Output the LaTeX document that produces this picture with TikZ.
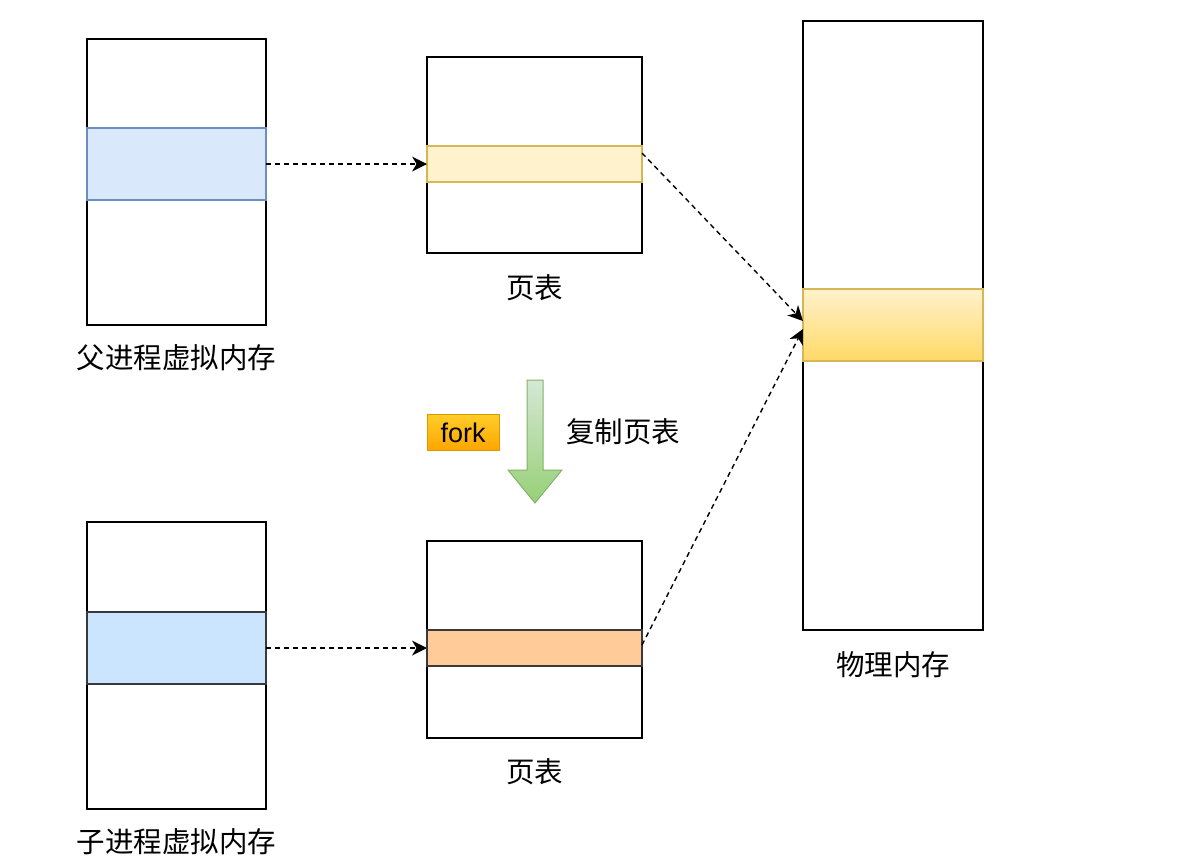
\documentclass[tikz,border=0pt]{standalone}
\usepackage{fontspec}
\setmainfont{Noto Sans CJK SC}
\newfontfamily\labelsans{Liberation Sans}
\usetikzlibrary{arrows.meta}

\definecolor{bandblue}{HTML}{DAE8FC}
\definecolor{bandbluedraw}{HTML}{6C8EBF}
\definecolor{bandsky}{HTML}{CCE5FF}
\definecolor{darkline}{HTML}{36393D}
\definecolor{bandyellow}{HTML}{FFF2CC}
\definecolor{bandyellowdraw}{HTML}{D6B656}
\definecolor{bandgold}{HTML}{FFD966}
\definecolor{bandorange}{HTML}{FFCC99}
\definecolor{arrowgreenlight}{HTML}{D5E8D4}
\definecolor{arrowgreen}{HTML}{97D077}
\definecolor{arrowgreendraw}{HTML}{82B366}
\definecolor{forktop}{HTML}{FFCD28}
\definecolor{forkbottom}{HTML}{FFA500}
\definecolor{forkdraw}{HTML}{D79B00}

\tikzset{
  memblock/.style={draw=black, fill=white, line width=1.2pt, inner sep=0pt, outer sep=0pt},
  band/.style={line width=1.2pt, inner sep=0pt, outer sep=0pt},
  caption/.style={font=\fontsize{28.5}{32}\selectfont, inner sep=0pt},
  maptip/.tip={Stealth[length=15pt, width=15pt, inset=4.5pt, line width=0pt]},
  mapping/.style={dash pattern=on 5pt off 4pt, line width=1.4pt, -maptip},
}

\begin{document}
\begin{tikzpicture}[x=1pt, y=-1pt]
\useasboundingbox (0,0) rectangle (1178,865);

% parent process virtual memory
\node[memblock, minimum width=179pt, minimum height=286pt] (pvm) at (176.5,182) {};
\node[band, draw=bandbluedraw, fill=bandblue, minimum width=179pt, minimum height=72pt] (pband) at (176.5,164) {};
\node[caption] (pcap) at (176.5,358) {父进程虚拟内存};

% parent page table
\node[memblock, minimum width=215pt, minimum height=196pt] (ptab) at (534.5,155) {};
\node[band, draw=bandyellowdraw, fill=bandyellow, minimum width=215pt, minimum height=36pt] (ptband) at (534.5,164) {};
\node[caption] (ptcap) at (534.5,288) {页表};

% physical memory
\node[memblock, minimum width=180pt, minimum height=609pt] (phys) at (893,325.5) {};
\node[band, draw=bandyellowdraw, top color=bandyellow, bottom color=bandgold, minimum width=180pt, minimum height=72pt] (physband) at (893,325) {};
\node[caption] (physcap) at (893,665) {物理内存};

% child process virtual memory
\node[memblock, minimum width=179pt, minimum height=287pt] (cvm) at (176.5,665.5) {};
\node[band, draw=darkline, fill=bandsky, minimum width=179pt, minimum height=72pt] (cband) at (176.5,648) {};
\node[caption] (ccap) at (176.5,842) {子进程虚拟内存};

% child page table
\node[memblock, minimum width=215pt, minimum height=197pt] (ctab) at (534.5,639.5) {};
\node[band, draw=darkline, fill=bandorange, minimum width=215pt, minimum height=36pt] (ctband) at (534.5,648) {};
\node[caption] (ctcap) at (534.5,772) {页表};

% address mappings
\draw[mapping] (pband.east) -- (ptband.west);
\draw[mapping] (cband.east) -- (ctband.west);
\draw[mapping] ([yshift=-7pt]ptband.north east) -- ([yshift=4pt]physband.west);
\draw[mapping] ([yshift=3pt]ctband.east) -- ([yshift=-4pt]physband.west);

% fork step: copy the page table
\path[draw=arrowgreendraw, line width=1pt, top color=arrowgreenlight, bottom color=arrowgreen]
  (527,380) -- (543,380) -- (543,470) -- (562,470) -- (535,503) -- (508,470) -- (527,470) -- cycle;
\node[draw=forkdraw, line width=1pt, top color=forktop, bottom color=forkbottom,
      minimum width=72pt, minimum height=36pt, inner sep=0pt,
      font=\labelsans\fontsize{27}{30}\selectfont] (fork) at (463,432.5) {fork};
\node[caption, anchor=west] (copy) at (566,432) {复制页表};
\end{tikzpicture}
\end{document}
